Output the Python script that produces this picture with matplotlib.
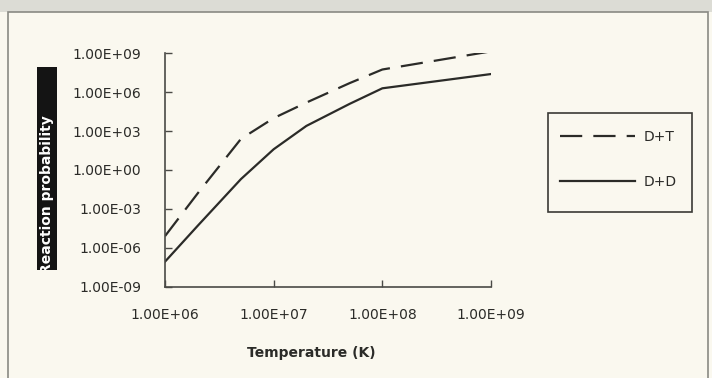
import matplotlib.pyplot as plt
import numpy as np
from matplotlib.patches import Rectangle
from matplotlib.ticker import FuncFormatter, FixedLocator

# Temperature points (K) and log10 of the reaction probability
temperature = [1e6, 2e6, 5e6, 1e7, 2e7, 5e7, 1e8, 1e9]
log_dt = [-5.1, -1.8, 2.4, 4.0, 5.2, 6.7, 7.75, 9.15]
log_dd = [-7.07, -4.3, -0.7, 1.6, 3.4, 5.1, 6.3, 7.4]

y_ticks = [1e-9, 1e-6, 1e-3, 1e0, 1e3, 1e6, 1e9]
x_ticks = [1e6, 1e7, 1e8, 1e9]

bg = '#faf8ef'
ink = '#2b2b28'
axis_col = '#4a4a46'
W, H = 712, 378


def sci_label(v, pos):
    e = int(round(np.log10(v)))
    return '1.00E{}{:02d}'.format('+' if e >= 0 else '-', abs(e))


def fx(px):
    return px / W


def fy(py):
    return 1 - py / H


fig = plt.figure(figsize=(7.12, 3.78), dpi=100)
fig.patch.set_facecolor(bg)

# grey strip above the chart frame and the frame itself
fig.patches.append(Rectangle((0, fy(12)), 1, 12 / H, transform=fig.transFigure,
                             facecolor='#dcdcd5', edgecolor='none', zorder=0))
fig.patches.append(Rectangle((fx(8), -0.01), 700 / W, fy(12) + 0.01,
                             transform=fig.transFigure, facecolor='none',
                             edgecolor='#8a8a84', linewidth=1.2, zorder=1))

ax = fig.add_axes([fx(165), fy(286.7), 326 / W, 233.4 / H])
ax.set_facecolor(bg)

ax.plot(temperature, 10 ** np.array(log_dt), color=ink, lw=1.6,
        linestyle=(0, (10, 5)), label='D+T')
ax.plot(temperature, 10 ** np.array(log_dd), color=ink, lw=1.6,
        linestyle='-', label='D+D')

ax.set_xscale('log')
ax.set_yscale('log')
ax.set_xlim(1e6, 1e9)
ax.set_ylim(1e-9, 1e9)
ax.xaxis.set_major_locator(FixedLocator(x_ticks))
ax.yaxis.set_major_locator(FixedLocator(y_ticks))
ax.xaxis.set_minor_locator(FixedLocator([]))
ax.yaxis.set_minor_locator(FixedLocator([]))
ax.xaxis.set_major_formatter(FuncFormatter(sci_label))
ax.yaxis.set_major_formatter(FuncFormatter(sci_label))

for side in ['top', 'right']:
    ax.spines[side].set_visible(False)
for side in ['left', 'bottom']:
    ax.spines[side].set_color(axis_col)
    ax.spines[side].set_linewidth(1.2)

ax.tick_params(axis='both', which='major', direction='in', length=5, width=1,
               color=axis_col, labelsize=10, labelcolor=ink)
ax.tick_params(axis='y', pad=17)
ax.tick_params(axis='x', pad=15)

fig.text(fx(311), fy(353), 'Temperature (K)', ha='center', va='center',
         fontsize=10, fontweight='bold', color=ink)

# y-axis title: white bold text on a black bar, clipped at the bar edge
bar = Rectangle((fx(37), fy(270)), 20 / W, 203 / H, transform=fig.transFigure,
                facecolor='#141414', edgecolor='none', zorder=2)
fig.patches.append(bar)
ylab = fig.text(fx(47), fy(274), 'Reaction probability', rotation=90,
                ha='center', va='bottom', color='white', fontsize=10,
                fontweight='bold', zorder=3)
ylab.set_clip_path(bar)

# legend box
fig.patches.append(Rectangle((fx(548), fy(212)), 144 / W, 99 / H,
                             transform=fig.transFigure, facecolor=bg,
                             edgecolor='#3a3a36', linewidth=1.2, zorder=2))
leg = fig.legend(loc='upper left', bbox_to_anchor=(fx(560), fy(130)),
                 frameon=False, fontsize=10, handlelength=5.4,
                 labelspacing=2.2, borderpad=0, handletextpad=0.6,
                 borderaxespad=0)
leg.set_zorder(4)
for t in leg.get_texts():
    t.set_color(ink)

fig.savefig('out.png', dpi=100, facecolor=fig.get_facecolor())
